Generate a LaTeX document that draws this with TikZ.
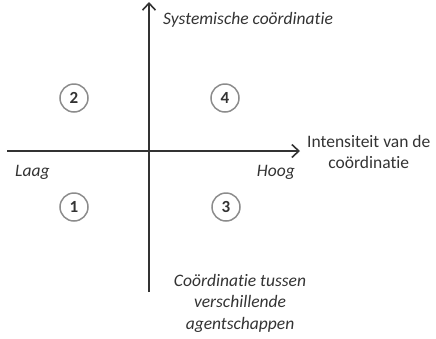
\documentclass[tikz,border=0pt]{standalone}
\usepackage{fontspec}
\setmainfont[Ligatures=NoCommon]{Carlito}
\usetikzlibrary{positioning}
\usetikzlibrary{arrows.meta}

\tikzset{
  as/.style={draw=black!80, line width=1.7pt, -{Straight Barb[length=7pt,width=13pt,line width=1.6pt]}},
  kwadrant/.style={circle, draw=black!45, line width=1.5pt, minimum size=28pt, inner sep=0pt, font=\fontsize{17}{17}\selectfont\bfseries, text=black!80},
  label/.style={text=black!80, font=\fontsize{17.5}{21.5}\selectfont, inner sep=0pt},
  ilabel/.style={label, font=\fontsize{17.5}{21.5}\selectfont\itshape}
}

\begin{document}
\begin{tikzpicture}[x=1pt,y=-1pt]
  \useasboundingbox (0,0) rectangle (436,338);
  % assen
  \coordinate (links) at (7,151);
  \coordinate (rechts) at (300,151);
  \coordinate (onder) at (149,292);
  \coordinate (boven) at (149,2);
  \draw[as] (links) -- (rechts);
  \draw[as] (onder) -- (boven);
  % kwadranten
  \node[kwadrant] (q2) at (74,98) {2};
  \node[kwadrant] (q4) at (225,98) {4};
  \node[kwadrant] (q1) at (74,207) {1};
  \node[kwadrant] (q3) at (226,207) {3};
  % teksten
  \node[ilabel, anchor=west] (systemisch) at (163,20) {Systemische coördinatie};
  \node[label, align=center, anchor=west] (intensiteit) at (307,152) {Intensiteit van de\\coördinatie};
  \node[ilabel, anchor=west] (laag) at (15,172) {Laag};
  \node[ilabel, anchor=east] (hoog) at (295,172) {Hoog};
  \node[ilabel, align=center, anchor=north] (agentschap) at (240,274) {Coördinatie tussen\\verschillende\\agentschappen};
\end{tikzpicture}
\end{document}
